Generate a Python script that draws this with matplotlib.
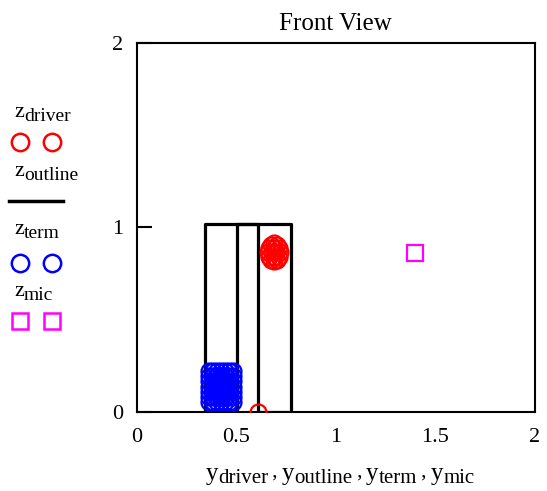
import matplotlib.pyplot as plt
from matplotlib.lines import Line2D

plt.rcParams["font.family"] = "Liberation Serif"

# driver (red circles): one at the base, a tight cluster near the top
driver_y = [0.61,
            0.72, 0.716, 0.705, 0.69, 0.675, 0.664, 0.66, 0.664, 0.675, 0.69, 0.705, 0.716,
            0.69, 0.69, 0.69, 0.68, 0.70]
driver_z = [0.0,
            0.864, 0.889, 0.906, 0.913, 0.906, 0.889, 0.864, 0.839, 0.822, 0.815, 0.822, 0.839,
            0.864, 0.84, 0.888, 0.864, 0.864]

# enclosure outline (black line)
outline_y = [0.34, 0.34, 0.775, 0.775, 0.61, 0.61, 0.50, 0.50]
outline_z = [0.0, 1.018, 1.018, 0.0, 0.0, 1.018, 1.018, 0.0]

# terminal (blue circles), block of points near the floor
term_y = [0.36, 0.38, 0.40, 0.42, 0.44, 0.46, 0.48,
          0.36, 0.38, 0.40, 0.42, 0.44, 0.46, 0.48,
          0.36, 0.38, 0.40, 0.42, 0.44, 0.46, 0.48,
          0.36, 0.38, 0.40, 0.42, 0.44, 0.46, 0.48,
          0.36, 0.38, 0.40, 0.42, 0.44, 0.46, 0.48,
          0.36, 0.38, 0.40, 0.42, 0.44, 0.46, 0.48,
          0.36, 0.38, 0.40, 0.42, 0.44, 0.46, 0.48]
term_z = [0.05, 0.05, 0.05, 0.05, 0.05, 0.05, 0.05,
          0.079, 0.079, 0.079, 0.079, 0.079, 0.079, 0.079,
          0.108, 0.108, 0.108, 0.108, 0.108, 0.108, 0.108,
          0.136, 0.136, 0.136, 0.136, 0.136, 0.136, 0.136,
          0.165, 0.165, 0.165, 0.165, 0.165, 0.165, 0.165,
          0.194, 0.194, 0.194, 0.194, 0.194, 0.194, 0.194,
          0.222, 0.222, 0.222, 0.222, 0.222, 0.222, 0.222]

# microphone (magenta square)
mic_y = [1.397]
mic_z = [0.861]

xticks = [0, 0.5, 1, 1.5, 2]
xticklabels = ["0", "0.5", "1", "1.5", "2"]
yticks = [0, 1, 2]

W, H = 547, 491
fig = plt.figure(figsize=(W / 100, H / 100), dpi=100)
ax = fig.add_axes([137 / W, 1 - 411.7 / H, 398 / W, 368.7 / H])

ax.plot(outline_y, outline_z, color="black", lw=2.3, zorder=2)
ax.plot(driver_y, driver_z, ls="none", marker="o", ms=11.5, mfc="none",
        mec="red", mew=1.6, zorder=3)
ax.plot(term_y, term_z, ls="none", marker="o", ms=11.5, mfc="none",
        mec="blue", mew=1.6, zorder=3)
ax.plot(mic_y, mic_z, ls="none", marker="s", ms=11, mfc="none",
        mec="magenta", mew=1.6, zorder=3)

ax.set_xlim(0, 2)
ax.set_ylim(0, 2)
ax.set_xticks(xticks)
ax.set_xticklabels(xticklabels)
ax.set_yticks(yticks)
ax.tick_params(axis="x", length=0, pad=12, labelsize=16)
ax.tick_params(axis="y", direction="in", length=11, width=1.5, pad=10,
               labelsize=16)
for s in ax.spines.values():
    s.set_linewidth(1.5)

renderer = fig.canvas.get_renderer()


def px(x, y):
    return x / W, 1 - y / H


def rich(x, y, parts, center=False):
    # parts: (text, fontsize, baseline shift in px, downward positive)
    widths = []
    for s, size, dy in parts:
        t = fig.text(0, 0, s, fontsize=size)
        widths.append(t.get_window_extent(renderer).width)
        t.remove()
    if center:
        x -= sum(widths) / 2
    for (s, size, dy), w in zip(parts, widths):
        fig.text(*px(x, y + dy), s, fontsize=size, va="baseline", ha="left")
        x += w


fig.text(*px(335, 30), "Front View", fontsize=18, ha="center", va="baseline")

xlabel_parts = [("y", 18, 0), ("driver", 15, 3), ("\u2009,\u2009", 15, -3),
                ("y", 18, 0), ("outline", 15, 3), ("\u2009,\u2009", 15, -3),
                ("y", 18, 0), ("term", 15, 3), ("\u2009,\u2009", 15, -3),
                ("y", 18, 0), ("mic", 15, 3)]
rich(340, 480, xlabel_parts, center=True)

# Mathcad-style legend in the left margin
legend = [
    ("driver", 117, 142, dict(marker="o", mec="red", ms=12.5)),
    ("outline", 176, 201, None),
    ("term", 234, 263, dict(marker="o", mec="blue", ms=12.5)),
    ("mic", 296, 321, dict(marker="s", mec="magenta", ms=12)),
]
for sub, ty, my, style in legend:
    rich(14, ty, [("z", 16, 0), (sub, 14, 4)])
    if style is None:
        x0, y0 = px(9, my)
        x1, _ = px(63, my)
        fig.add_artist(Line2D([x0, x1], [y0, y0], color="black", lw=2.5,
                              transform=fig.transFigure))
    else:
        xa, ya = px(20, my)
        xb, _ = px(52, my)
        fig.add_artist(Line2D([xa, xb], [ya, ya], ls="none", mfc="none",
                              mew=1.8, transform=fig.transFigure, **style))

fig.savefig("out.png", dpi=100)
